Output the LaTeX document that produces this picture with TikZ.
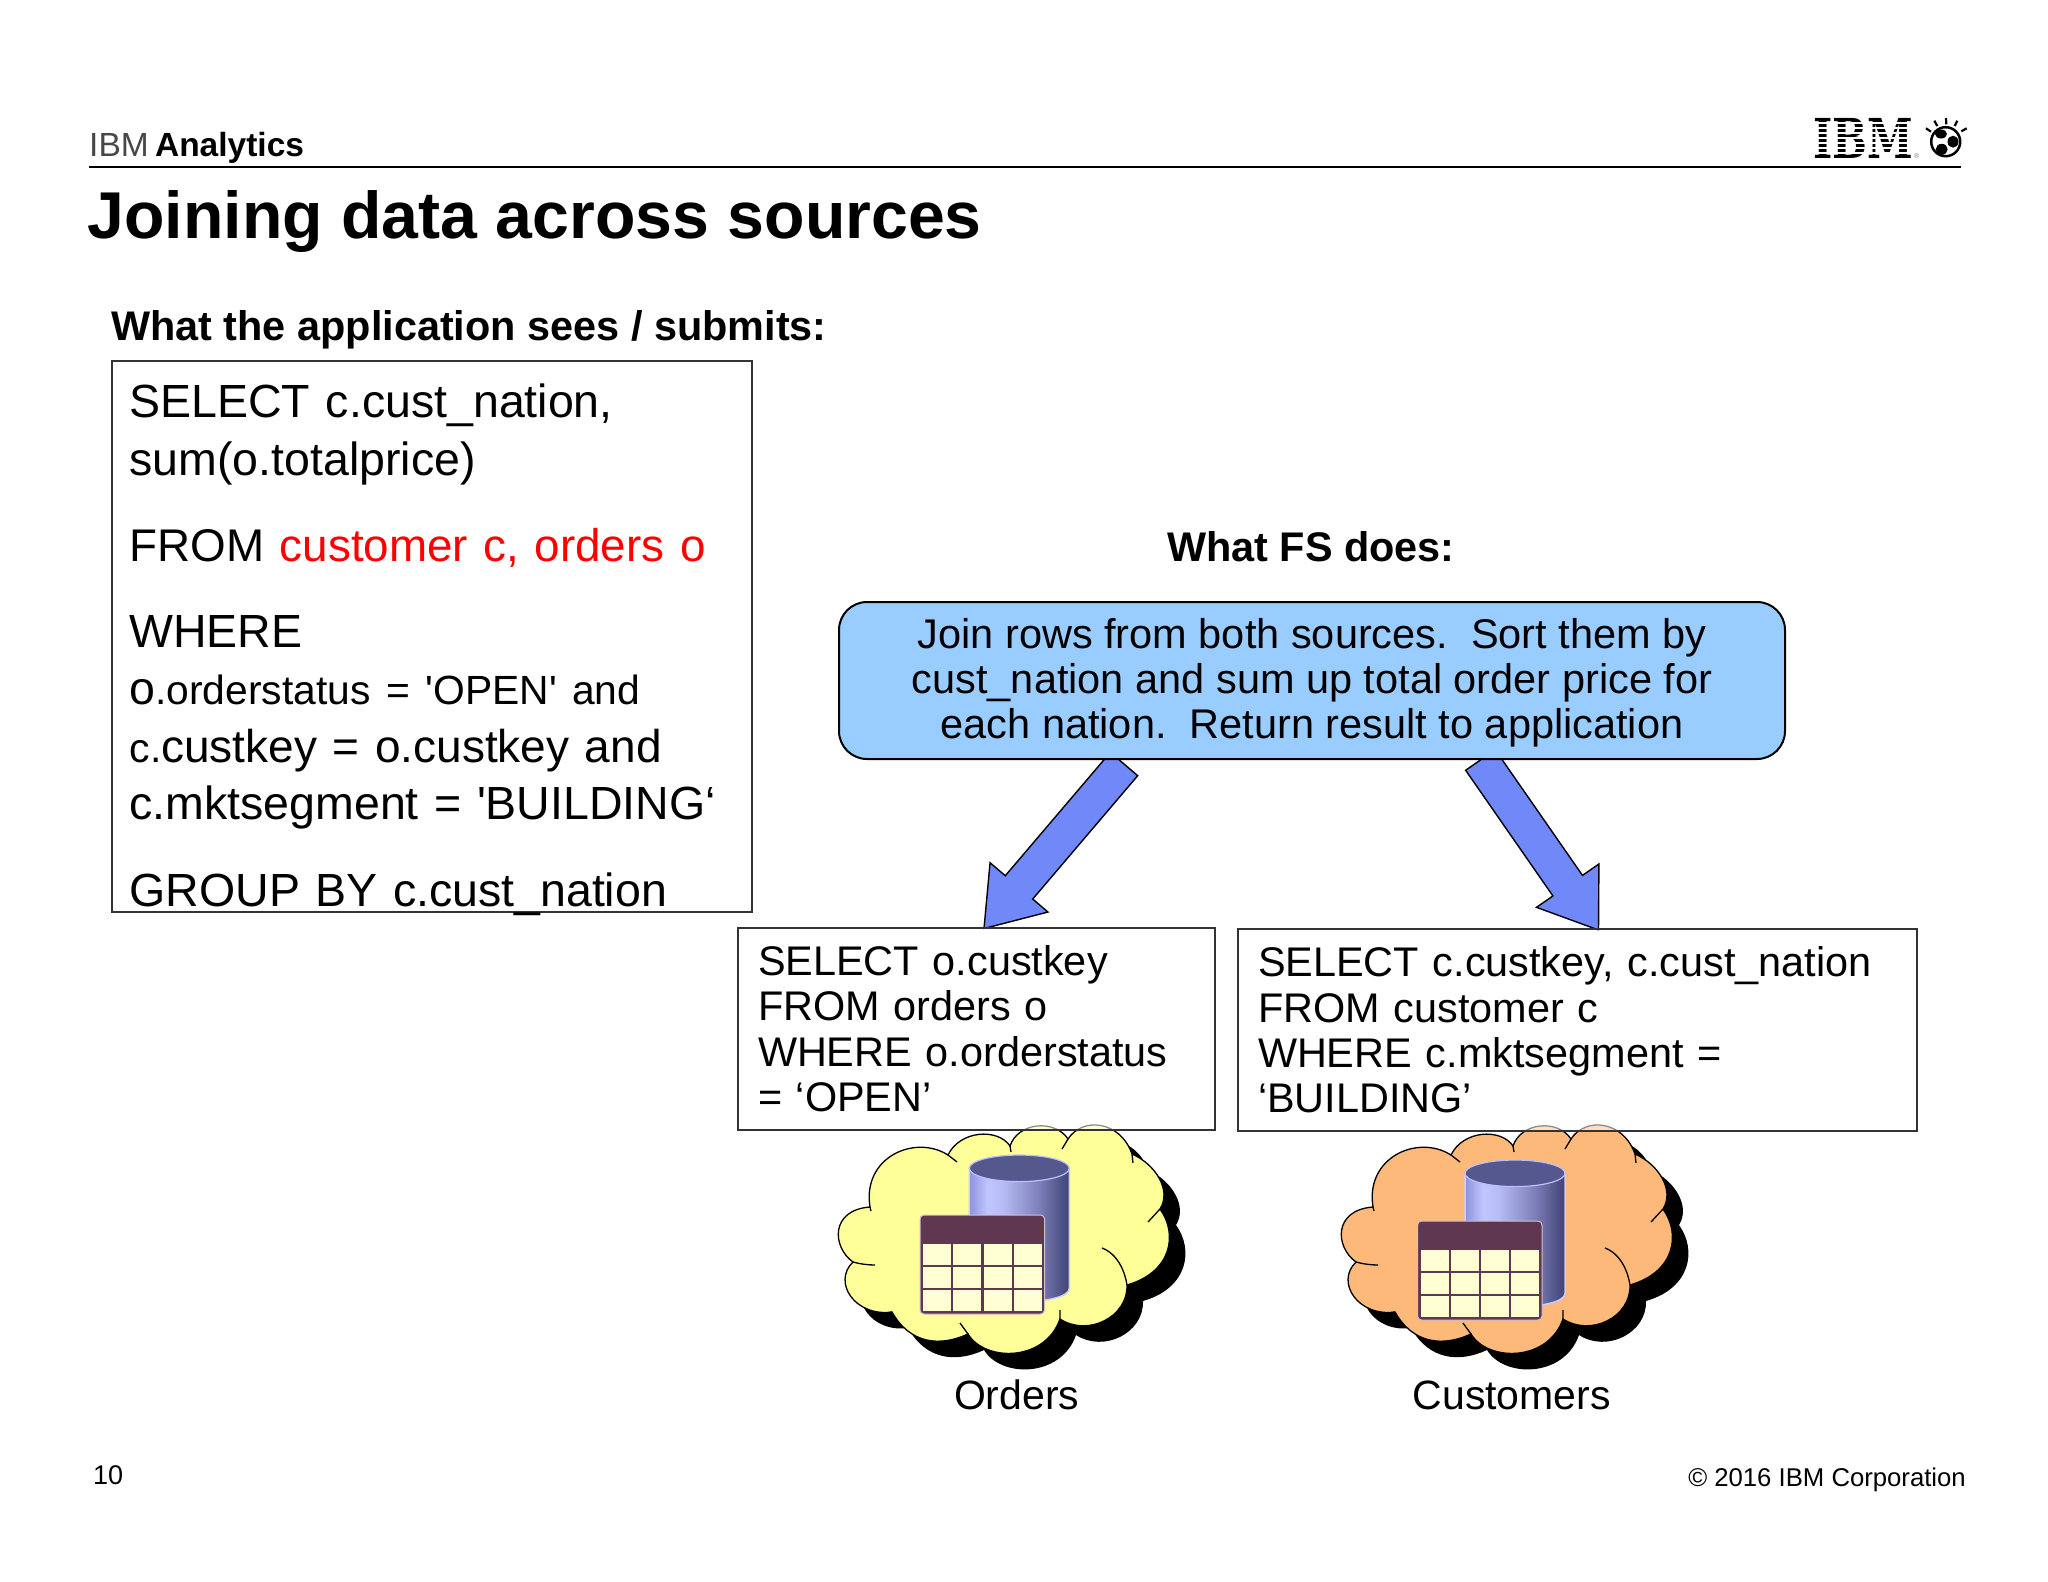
\documentclass[tikz,border=0pt]{standalone}
\usepackage{fontspec}
\setmainfont{Liberation Sans}
\usetikzlibrary{positioning, calc, backgrounds}

\definecolor{joinblue}{HTML}{99CCFF}
\definecolor{arrowblue}{HTML}{7088F8}
\definecolor{cloudyellow}{HTML}{FFFF99}
\definecolor{cloudorange}{HTML}{FDB97A}
\definecolor{tablehead}{HTML}{5F3750}
\definecolor{tablecell}{HTML}{FFFDD2}
\definecolor{boxline}{HTML}{333333}
\definecolor{cyltop}{HTML}{55588C}
\definecolor{cylleft}{HTML}{8E92DC}
\definecolor{cyllight}{HTML}{C0C6FF}
\definecolor{cylmid}{HTML}{7C7EB8}
\definecolor{cylright}{HTML}{3F4272}

\pgfdeclarehorizontalshading{cylbody}{100bp}{color(0bp)=(cylleft); color(25bp)=(cylleft); color(34bp)=(cyllight); color(42bp)=(cyllight!85!cylmid); color(60bp)=(cylmid); color(75bp)=(cylright); color(100bp)=(cylright)}

\newcommand{\fsz}[2]{\fontsize{#1}{#2}\selectfont}
\newcommand{\cloudoutline}{(50,85)
    .. controls (42,35) and (95,12) .. (128,33)
    .. controls (140,8) and (178,6) .. (190,24)
    .. controls (198,0) and (235,-3) .. (248,17)
    .. controls (262,-5) and (300,-2) .. (312,32)
    .. controls (335,42) and (352,68) .. (340,87)
    .. controls (358,112) and (352,150) .. (307,163)
    .. controls (308,195) and (268,215) .. (240,197)
    .. controls (225,240) and (165,240) .. (148,212)
    .. controls (120,225) and (90,222) .. (72,190)
    .. controls (35,195) and (12,160) .. (33,140)
    .. controls (12,125) and (10,88) .. (50,85) -- cycle}
\newcommand{\blockarrow}[2]{%
    \coordinate (H) at ($(#2)!54pt!(#1)$);
    \draw[blockarrow] ($(#1)!18pt!-90:(#2)$) -- ($(H)!18pt!90:(#1)$) -- ($(H)!38pt!90:(#1)$) -- (#2)
        -- ($(H)!38pt!-90:(#1)$) -- ($(H)!18pt!-90:(#1)$) -- ($(#1)!18pt!90:(#2)$) -- cycle;}

\tikzset{
    line/.style={inner sep=0pt, anchor=base west},
    centerline/.style={inner sep=0pt, anchor=base},
    querybox/.style={rectangle, draw=boxline, line width=2pt, fill=white, fill opacity=0.55, text opacity=1, align=left, inner xsep=20pt},
    blockarrow/.style={draw=black, line width=1.4pt, fill=arrowblue, line join=miter},
    pics/datacloud/.style={code={
        \fill[black, shift={(16,16)}] \cloudoutline;
        \draw[fill=#1, line width=1.3pt] \cloudoutline;
        \draw[line width=1.3pt] (128,33) -- (137,40) (190,24) -- (191,30) (248,17) -- (242,27) (312,32) -- (313,41)
            (340,87) -- (328,100) (240,197) -- (240,188) (148,212) -- (140,201) (72,190) -- (62,192) (50,85) -- (51,89);
        \draw[line width=1.3pt] (282,126) .. controls (298,132) and (305,150) .. (307,163);
        \draw[line width=1.3pt] (33,140) .. controls (40,142) and (48,143) .. (55,143);
    }},
    pics/dbcylinder/.style={code={
        \path[shading=cylbody, draw=white!80!blue, line width=1.5pt] (-50,0) -- (-50,120) .. controls (-50,138) and (50,138) .. (50,120) -- (50,0) -- cycle;
        \draw[fill=cyltop, draw=white!75!blue, line width=1.2pt] (0,0) ellipse [x radius=50pt, y radius=13.3pt];
    }},
    pics/datatable/.style={code={
        \draw[fill=tablehead, draw=white!70!tablehead, line width=1pt, rounded corners=4pt] (0,0) rectangle (124.5,99);
        % grid cells
        \foreach \r in {0,1,2} {
            \foreach \c in {0,...,3} {
                \fill[tablecell] (3+\c*30.3, 28.5+\r*23.3) rectangle ++(28,21.2);
            }
        }
    }},
}

\begin{document}
\begin{tikzpicture}[x=1pt, y=-1pt]
    \useasboundingbox (0,0) rectangle (2048,1582);

    % Header
    \node (brand) [line, font=\fsz{33.5}{40}] at (89,156) {{\color{black!72}IBM}\hspace{-3pt} \textbf{Analytics}};
    \node (ibmmark) [inner sep=0pt, anchor=base, xscale=0.75, font=\fsz{55}{60}\fontspec{DejaVu Serif}\bfseries] at (1863,158) {IBM};
    \foreach \k in {0,...,6} {
        \draw[white, line width=2pt] (1808,122.5+\k*5) -- (1916,122.5+\k*5);
    }
    \node (regmark) [line, text=gray, font=\fsz{7}{8}] at (1914,158) {®};
    \draw[line width=2.5pt, fill=white] (1945.7,141.7) circle [radius=14.5pt];
    \fill (1941,134) ellipse [x radius=6pt, y radius=4.5pt];
    \fill (1953,141.7) ellipse [x radius=5.5pt, y radius=6pt];
    \fill (1941.7,149.3) ellipse [x radius=6pt, y radius=5.5pt];
    \foreach \a/\b/\c/\d in {1926/128.3/1931/131.7, 1934.3/120.7/1937.3/126, 1946/118/1946.3/124.3, 1957.3/120.7/1954.7/126, 1966.7/128.3/1961.3/131.3} {
        \draw[line width=2.2pt] (\a,\b) -- (\c,\d);
    }
    \coordinate (ruleleft) at (89,166.7);
    \coordinate (ruleright) at (1961,166.7);
    \draw[line width=2.4pt] (ruleleft) -- (ruleright);
    \node (title) [line, font=\fsz{66.2}{70}\bfseries] at (87.5,238) {Joining data across sources};

    % Clouds
    \pic (orderscloud) at (820,1122) {datacloud=cloudyellow};
    \pic (custcloud) at (1323,1122) {datacloud=cloudorange};
    \pic (orderscyl) at (1019.3,1168.3) {dbcylinder};
    \pic (custcyl) at (1515,1173.3) {dbcylinder};
    \pic (orderstable) at (920,1215) {datatable};
    \pic (custtable) at (1417.5,1221) {datatable};
    \node (orderslabel) [centerline, font=\fsz{41}{46}] at (1016.7,1409) {Orders};
    \node (custlabel) [centerline, font=\fsz{41}{46}] at (1511.7,1409) {Customers};

    % Left column
    \node (appheading) [line, font=\fsz{41.4}{46}\bfseries] at (111,340) {What the application sees / submits:};
    \node (appquery) [querybox, anchor=north west, inner xsep=18pt, inner ysep=0pt, text width=604pt, minimum height=551pt, font=\fsz{46.5}{57.5}] at (110.5,360) {\rule{0pt}{51pt}SELECT c.cust\_nation,\\
        sum(o.totalprice)\\[28.5pt]
        {\fsz{45.8}{57.5}FROM \textcolor{red}{customer c, orders o}}\\[28.5pt]
        WHERE\\
        o{\fsz{40.8}{57.5}.orderstatus = \textquotesingle OPEN\textquotesingle{} and}\\
        {\fsz{41}{57.5}c.}{\fsz{46}{57.5}custkey = o.custkey and}\\
        c.mktsegment = \textquotesingle BUILDING‘\\[29pt]
        \smash{GROUP BY c.cust\_nation}};

    % Right column
    \node (fsbox) [rectangle, draw=black, line width=2pt, fill=joinblue, rounded corners=28pt, anchor=north west, align=center, minimum width=946pt, minimum height=157pt, font=\fsz{41.5}{45}] at (838,601) {\rule{0pt}{35pt}Join rows from both sources.\ \ Sort them by\\
        cust\_nation and sum up total order price for\\
        each nation.\ \ Return result to application};
    \node (fsheading) [inner sep=0pt, above=39pt of fsbox, xshift=-1pt, font=\fsz{41.4}{46}\bfseries] {What FS does:};
    \node (ordersquery) [querybox, below=166.5pt of fsbox.south west, anchor=north west, xshift=-101pt, text width=437pt, minimum height=202pt, font=\fsz{41.4}{45.4}] {SELECT o.custkey\\
        FROM orders o\\
        WHERE o.orderstatus\\
        = ‘OPEN’};
    \node (custquery) [querybox, right=21pt of ordersquery.north east, anchor=north west, yshift=-1.5pt, text width=638.5pt, minimum height=202pt, font=\fsz{41.4}{45.4}] {SELECT c.custkey, c.cust\_nation\\
        FROM customer c\\
        WHERE c.mktsegment =\\
        ‘BUILDING’};

    % Block arrows
    \coordinate (joinleft) at ($(fsbox.south west)+(286,4)$);
    \coordinate (joinright) at ($(fsbox.south west)+(642.4,0)$);
    \coordinate (ordersend) at ($(ordersquery.north west)+(247,2)$);
    \coordinate (custend) at ($(custquery.north west)+(361.5,2)$);
    \begin{scope}[on background layer]
        \blockarrow{joinleft}{ordersend}
        \blockarrow{joinright}{custend}
    \end{scope}

    % Footer
    \node (pagenum) [line, font=\fsz{27}{30}] at (93,1484) {10};
    \node (copyright) [inner sep=0pt, anchor=base east, font=\fsz{25.7}{30}] at (1966,1486.7) {© 2016 IBM Corporation};
\end{tikzpicture}
\end{document}
